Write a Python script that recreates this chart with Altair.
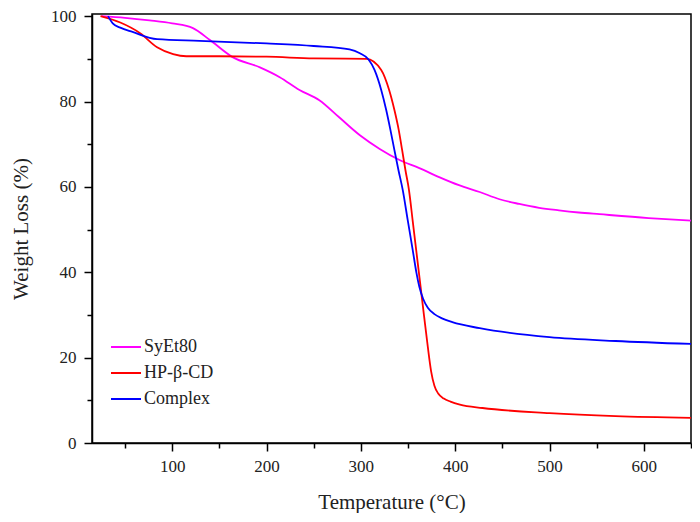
import altair as alt
import pandas as pd

# SyEt80
t_syet = [25, 50, 76, 100, 122, 140, 164, 193, 214, 235, 256, 277, 299, 320, 341, 362, 383, 404, 426, 447, 468, 489, 510, 531, 553, 605, 650]
w_syet = [100, 99.6, 99, 98.3, 97.2, 94.4, 90.4, 88, 85.7, 82.7, 80.3, 76.3, 72.1, 68.9, 66.3, 64.4, 62.3, 60.4, 58.8, 57.1, 56.0, 55.1, 54.5, 54.0, 53.6, 52.7, 52.1]

# HP-β-CD
t_hp = [24, 45, 66, 84, 101, 115, 150, 200, 250, 306, 321.6, 330, 335.6, 340.2, 343.8, 347.3, 351, 355, 359, 363, 367, 371, 374.5, 378, 382, 388, 395, 405, 429, 500, 570, 650]
w_hp = [100, 98.5, 96, 92.7, 91.1, 90.6, 90.6, 90.5, 90.1, 90.0, 87.4, 82.7, 78, 73.3, 68.6, 63.9, 59.3, 52.0, 44.6, 37.2, 29.8, 22.5, 16.8, 13.4, 11.6, 10.4, 9.7, 9.0, 8.2, 7.0, 6.3, 5.9]

# Complex
t_cx = [32, 37, 45, 58, 84, 129, 200, 250, 288, 299, 308, 314.5, 321.6, 326.9, 331.4, 335.6, 339.9, 344.4, 349.7, 355, 359, 362, 366, 371, 378, 386, 397, 426, 500, 570, 650]
w_cx = [100, 98.3, 97.3, 96.3, 94.6, 94.2, 93.6, 93.0, 92.2, 91.3, 89.9, 87.4, 82.7, 78, 73.3, 68.6, 63.9, 59.3, 52.2, 45.2, 39.8, 36.6, 33.8, 31.7, 30.2, 29.2, 28.3, 26.9, 24.8, 23.9, 23.2]

series_names = ["SyEt80", "HP-β-CD", "Complex"]
series_colors = ["#ff00ff", "#ff0000", "#0000ff"]

x_ticks = list(range(50, 651, 50))
y_ticks = list(range(0, 101, 10))

rows = []
for name, ts, ws in zip(series_names, [t_syet, t_hp, t_cx], [w_syet, w_hp, w_cx]):
    for i, (t, w) in enumerate(zip(ts, ws)):
        rows.append({"series": name, "T": t, "W": w, "order": i})
df = pd.DataFrame(rows)

FONT = "Liberation Serif"
TXT = "#222222"

chart = alt.Chart(df).mark_line(strokeWidth=1.8, interpolate="monotone").encode(
    x=alt.X("T:Q",
            scale=alt.Scale(domain=[15, 650], nice=False, zero=False),
            axis=alt.Axis(title="Temperature (°C)", values=x_ticks,
                          labelExpr="datum.value % 100 == 0 ? datum.label : ''",
                          grid=False,
                          tickSize={"condition": {"test": "datum.value % 100 == 0", "value": 8}, "value": 5},
                          tickColor="black", domainColor="black",
                          domainWidth=1.5, tickWidth=1.5,
                          labelFont=FONT, labelFontSize=17, labelColor=TXT,
                          titleFont=FONT, titleFontSize=21, titleFontWeight="normal",
                          titleColor=TXT, titlePadding=17, labelPadding=7)),
    y=alt.Y("W:Q",
            scale=alt.Scale(domain=[0, 100.5], nice=False),
            axis=alt.Axis(title="Weight Loss (%)", values=y_ticks,
                          labelExpr="datum.value % 20 == 0 ? datum.label : ''",
                          grid=False,
                          tickSize={"condition": {"test": "datum.value % 20 == 0", "value": 8}, "value": 5},
                          tickColor="black", domainColor="black",
                          domainWidth=1.5, tickWidth=1.5,
                          labelFont=FONT, labelFontSize=17, labelColor=TXT,
                          titleFont=FONT, titleFontSize=21, titleFontWeight="normal",
                          titleColor=TXT, titlePadding=19, labelPadding=8)),
    color=alt.Color("series:N",
                    scale=alt.Scale(domain=series_names, range=series_colors),
                    legend=alt.Legend(title=None, orient="none", legendX=23, legendY=322,
                                      symbolType="M-1.5,0L1.5,0", symbolSize=400, symbolStrokeWidth=2,
                                      labelFont=FONT, labelFontSize=18, labelColor=TXT,
                                      rowPadding=6, labelOffset=7)),
    order="order:Q",
).properties(
    width=599, height=429,
    autosize=alt.AutoSizeParams(type="none"),
    padding={"left": 84, "top": 6, "right": 1, "bottom": 70},
).configure_view(
    stroke="black", strokeWidth=1.5
)

chart.save("out.html", embed_options={"renderer": "svg", "actions": False})
